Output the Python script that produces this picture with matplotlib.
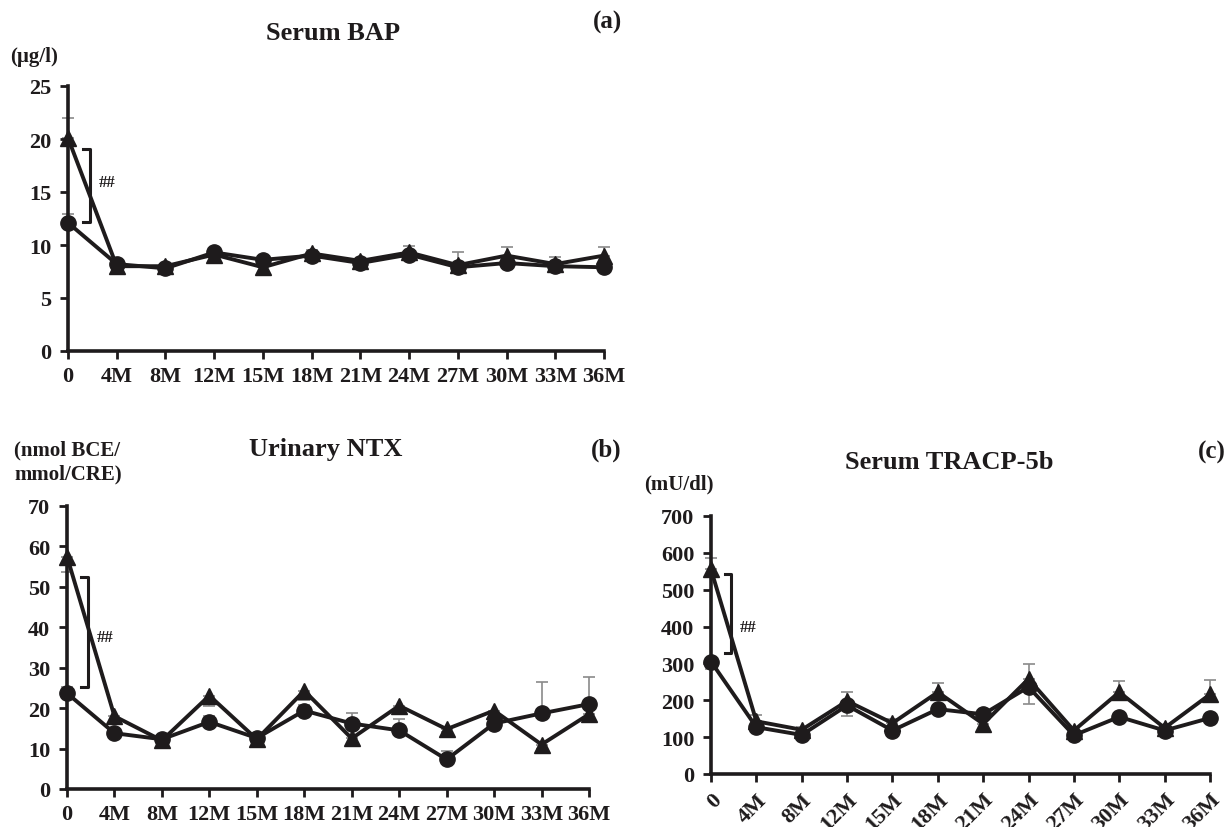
import matplotlib
matplotlib.use("Agg")
import matplotlib.pyplot as plt
import numpy as np

W, H = 1231, 828
INK = "#1e1b1c"
ERR = "#8a8a8a"

months = ["0", "4M", "8M", "12M", "15M", "18M", "21M", "24M", "27M", "30M", "33M", "36M"]

# (a) Serum BAP (ug/l)
bap_tri = [20.1, 8.0, 8.0, 9.1, 7.9, 9.2, 8.5, 9.3, 8.1, 9.0, 8.2, 9.0]
bap_circ = [12.1, 8.2, 7.8, 9.3, 8.6, 9.0, 8.3, 9.1, 7.9, 8.3, 8.0, 7.9]
bap_tri_up = [1.9, 0.2, 0.2, 0.3, 0.3, 0.3, 0.2, 0.6, 1.2, 0.8, 0.7, 0.8]
bap_circ_up = [0.8, 0.2, 0.2, 0.2, 0.2, 0.2, 0.2, 0.2, 0.3, 0.3, 0.2, 0.3]

# (b) Urinary NTX (nmol BCE/mmol CRE)
ntx_tri = [57.5, 18.0, 12.0, 23.1, 12.3, 24.3, 12.5, 20.6, 14.8, 19.4, 11.0, 18.5]
ntx_circ = [23.7, 13.8, 12.3, 16.6, 12.6, 19.4, 16.2, 14.5, 7.3, 16.2, 18.7, 21.0]
ntx_tri_dn = [3.8, 1.5, 0.8, 2.5, 0.8, 2.3, 1.3, 1.6, 0.8, 1.5, 1.0, 1.6]
ntx_circ_up = [1.5, 1.0, 0.8, 1.5, 1.0, 1.5, 2.6, 2.7, 2.0, 1.5, 7.8, 6.8]

# (c) Serum TRACP-5b (mU/dl)
trap_tri = [555, 143, 120, 198, 138, 222, 136, 258, 118, 222, 125, 216]
trap_circ = [305, 127, 106, 186, 118, 176, 162, 236, 105, 155, 118, 152]
trap_tri_up = [30, 18, 8, 25, 10, 25, 10, 40, 8, 30, 8, 38]
trap_circ_dn = [20, 10, 8, 28, 10, 12, 10, 46, 8, 12, 8, 12]

plt.rcParams["font.family"] = ["Liberation Serif", "DejaVu Serif"]
plt.rcParams["font.weight"] = "bold"

fig = plt.figure(figsize=(W / 100, H / 100), dpi=100)


def px_axes(left, top, right, bottom):
    return fig.add_axes([left / W, 1 - bottom / H, (right - left) / W, (bottom - top) / H])


def ftext(x, y, s, size, ha="center"):
    fig.text(x / W, 1 - y / H, s, fontsize=size, fontweight="bold", ha=ha, va="center", color=INK)


def panel(ax, tri, circ, tri_err, circ_err, ymax, ystep, bracket, hash_y, rotate=False):
    x = np.arange(len(months))
    ax.errorbar(x, tri, yerr=tri_err, fmt="none", ecolor=ERR, elinewidth=1.2,
                capsize=4, capthick=1.2, zorder=1, clip_on=False)
    ax.errorbar(x, circ, yerr=circ_err, fmt="none", ecolor=ERR, elinewidth=1.2,
                capsize=4, capthick=1.2, zorder=1, clip_on=False)
    ax.plot(x, tri, color=INK, lw=2.8, marker="^", ms=11, zorder=3, clip_on=False)
    ax.plot(x, circ, color=INK, lw=2.8, marker="o", ms=11, zorder=4, clip_on=False)

    # significance bracket
    lo, hi = bracket
    bx, arm = 0.45, 0.15
    ax.plot([bx - arm, bx, bx, bx - arm], [hi, hi, lo, lo], color=INK, lw=2.2,
            clip_on=False, zorder=2)
    ax.text(bx + 0.18, hash_y, "##", fontsize=12, fontweight="bold", color=INK,
            ha="left", va="center")

    ax.set_xlim(0, len(months) - 1)
    ax.set_ylim(0, ymax)
    ax.set_yticks(np.arange(0, ymax + ystep / 2, ystep))
    ax.set_xticks(x)
    if rotate:
        ax.set_xticklabels(months, rotation=45, ha="right", va="top", rotation_mode="anchor")
    else:
        ax.set_xticklabels(months)
    for s in ["top", "right"]:
        ax.spines[s].set_visible(False)
    for s in ["left", "bottom"]:
        ax.spines[s].set_linewidth(2.6)
        ax.spines[s].set_color(INK)
    ax.tick_params(axis="both", direction="out", length=6, width=2, color=INK,
                   labelsize=16, labelcolor=INK)
    ax.tick_params(axis="y", pad=6)
    ax.tick_params(axis="x", pad=5)
    ax.patch.set_visible(False)


ax_a = px_axes(68, 87, 604, 352)
panel(ax_a, bap_tri, bap_circ, [np.zeros(12), bap_tri_up], [np.zeros(12), bap_circ_up],
      25, 5, (12.2, 19.1), 15.9)
ftext(333, 33, "Serum BAP", 19)
ftext(608, 22, "(a)", 18)
ftext(10, 57, "(\u00b5g/l)", 15, ha="left")

ax_b = px_axes(67, 507, 589, 790)
panel(ax_b, ntx_tri, ntx_circ, [ntx_tri_dn, np.zeros(12)], [np.zeros(12), ntx_circ_up],
      70, 10, (25.2, 52.4), 37.6)
ftext(326, 450, "Urinary NTX", 19)
ftext(606, 450, "(b)", 18)
ftext(14, 450, "(nmol BCE/", 15, ha="left")
ftext(14, 474, "mmol/CRE)", 15, ha="left")

ax_c = px_axes(711, 517, 1210, 775)
panel(ax_c, trap_tri, trap_circ, [np.zeros(12), trap_tri_up], [trap_circ_dn, np.zeros(12)],
      700, 100, (328, 543), 400, rotate=True)
ftext(949, 463, "Serum TRACP-5b", 19)
ftext(1212, 452, "(c)", 18)
ftext(644, 484, "(mU/dl)", 15, ha="left")

fig.savefig("out.png", dpi=100)
